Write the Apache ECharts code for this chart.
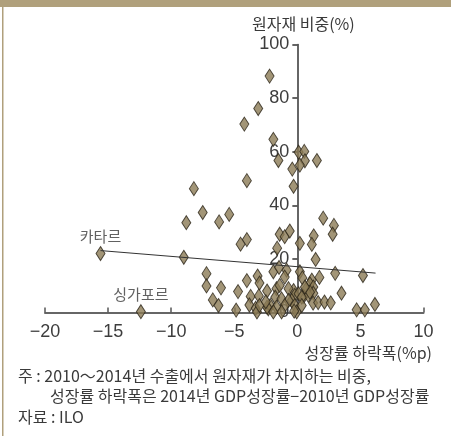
<!DOCTYPE html>
<html>
<head>
<meta charset="utf-8">
<script src="https://cdn.jsdelivr.net/npm/echarts@6/dist/echarts.min.js"></script>
<style>
  html, body { margin: 0; padding: 0; background: #fff; }
  #chart { width: 451px; height: 436px; }
</style>
</head>
<body>
<div id="chart"></div>
<script>
// Growth-rate drop (%p) per country
const growthDrop = [
  -15.6, -12.4,
  -2.2, -3.1, -4.2, -1.9, -1.5, 0.1, 0.55, 0.6, 0.2, -0.4, 1.55, -0.3, -4.0, -8.2,
  -7.5, -8.8, -6.2, -5.4, -4.0, -4.5, 2.05, 2.9, 2.8, 1.3, 1.15, 0.2, -1.4, -1.0,
  -0.6, -1.6, -9.0, 1.45, -7.2, -7.2, -6.05, -6.7, -6.25, -4.7, -4.0, -4.85, -3.15,
  -3.0, -3.7, -3.8, -3.3, -3.2, -3.05, -2.4, -2.3, -1.9, -1.45, -0.85, -1.0, 0.2,
  0.4, 1.15, 1.75, 3.0, 5.2, 1.0, 0.7, 1.27, 1.27, 0.5, 0.87, 1.25, 1.65, 2.15,
  2.65, 3.5, 4.7, 5.35, 6.15, -0.3, -0.2, -0.45, -0.2, -0.05, -1.65, -1.4, -0.7,
  0.1, 0.35, -1.75, -1.25, -0.7, -2.15, -1.65, -1.0, -2.4, -1.9, -1.25, -0.25,
  -3.0, 0.35, 1.0, 0.6, -2.5
];
// Share of raw materials in exports (%)
const rawShare = [
  22.0, 0.3,
  88.2, 76.1, 70.3, 64.6, 56.7, 59.8, 60.1, 56.6, 55.0, 53.5, 56.7, 47.1, 49.2, 46.2,
  37.3, 33.5, 33.8, 36.6, 27.2, 25.5, 35.2, 32.5, 29.2, 28.6, 25.4, 25.8, 29.2, 28.3,
  30.4, 24.0, 20.6, 19.8, 14.5, 9.9, 9.2, 4.7, 2.6, 7.8, 11.9, 0.9, 13.6,
  11.0, 6.0, 2.8, 1.6, 0.2, 6.2, 8.0, 1.4, 15.2, 16.8, 15.8, 13.2, 15.2,
  12.9, 12.1, 13.1, 14.6, 13.8, 10.7, 8.7, 9.5, 7.2, 6.0, 6.4, 3.5, 3.7, 3.9,
  3.6, 7.2, 1.0, 1.0, 3.0, 8.2, 6.4, 4.5, 2.6, 0.2, 8.9, 10.1, 8.9,
  7.0, 5.7, 5.7, 5.1, 4.5, 2.6, 2.0, 2.6, 2.0, 0.2, 0.2, 0.5,
  2.6, 2.6, 7.6, 9.5, 4.0
];
// Named countries (first entries of the arrays above)
const pointNames = ['카타르', '싱가포르'];

// Fitted trend line end points
const trendX = [-15.6, 6.2];
const trendY = [23.1, 14.7];

const xTicks = { min: -20, max: 10, step: 5 };
const yTicks = { min: 0, max: 100, step: 20 };

const W = 451;
const gridLeft = 45, gridRight = 27.5;
// The vertical axis crosses the horizontal one at x = 0; shift it there
const plotWidth = W - gridLeft - gridRight;
const yAxisShift = -plotWidth * (0 - xTicks.min) / (xTicks.max - xTicks.min);

const numFont = 'Liberation Sans, Arial, sans-serif';
const krFont = '"Noto Sans CJK KR", sans-serif';

const scatterData = growthDrop.map((x, i) => {
  const item = { value: [x, rawShare[i]] };
  if (i < pointNames.length) {
    item.name = pointNames[i];
    item.label = {
      show: true, position: 'top', distance: 2, formatter: '{b}',
      fontFamily: krFont, fontSize: 15, color: '#3a3a3a'
    };
  }
  return item;
});

const chart = echarts.init(document.getElementById('chart'), null, { renderer: 'canvas' });
chart.setOption({
  animation: false,
  backgroundColor: '#ffffff',
  grid: { left: gridLeft, right: gridRight, top: 44.5, bottom: 123.5 },
  xAxis: {
    type: 'value', min: xTicks.min, max: xTicks.max, interval: xTicks.step,
    splitLine: { show: false },
    axisLine: { onZero: false, lineStyle: { color: '#666', width: 2 } },
    axisTick: { inside: true, length: 5, lineStyle: { color: '#555', width: 1.5 } },
    axisLabel: {
      margin: 11, fontSize: 18, fontFamily: numFont, color: '#3d3d3d',
      formatter: v => (v < 0 ? '\u2212' + Math.abs(v) : String(v))
    }
  },
  yAxis: {
    type: 'value', min: yTicks.min, max: yTicks.max, interval: yTicks.step,
    offset: yAxisShift,
    splitLine: { show: false },
    axisLine: { onZero: false, lineStyle: { color: '#333', width: 1.5 } },
    axisTick: { length: 5, lineStyle: { color: '#333', width: 1.5 } },
    axisLabel: { margin: 8, fontSize: 18, fontFamily: numFont, color: '#3d3d3d' }
  },
  series: [
    {
      type: 'scatter',
      symbol: 'diamond',
      symbolSize: [9, 14],
      itemStyle: { color: '#8b7a55', borderColor: '#2b2418', borderWidth: 1 },
      data: scatterData,
      z: 2
    },
    {
      type: 'line',
      data: trendX.map((x, i) => [x, trendY[i]]),
      symbol: 'none',
      lineStyle: { color: '#333', width: 1 },
      z: 3
    }
  ],
  graphic: [
    { type: 'rect', left: 0, top: 0, shape: { width: 451, height: 7 }, style: { fill: '#b0a07c' } },
    { type: 'rect', left: 2, top: 7, shape: { width: 1.5, height: 429 }, style: { fill: '#b0a07c' } },
    { type: 'text', left: 252, top: 16,
      style: { text: '원자재 비중(%)', font: '16px ' + krFont, fill: '#3a3a3a' } },
    { type: 'text', right: 19, top: 345,
      style: { text: '성장률 하락폭(%p)', font: '16px ' + krFont, fill: '#3a3a3a' } },
    { type: 'text', left: 18, top: 368,
      style: { text: '주 : 2010～2014년 수출에서 원자재가 차지하는 비중,', font: '16px ' + krFont, fill: '#3a3a3a' } },
    { type: 'text', left: 50, top: 388,
      style: { text: '성장률 하락폭은 2014년 GDP성장률\u22122010년 GDP성장률', font: '16px ' + krFont, fill: '#3a3a3a' } },
    { type: 'text', left: 18, top: 409,
      style: { text: '자료 : ILO', font: '16px ' + krFont, fill: '#3a3a3a' } }
  ]
});
</script>
</body>
</html>
